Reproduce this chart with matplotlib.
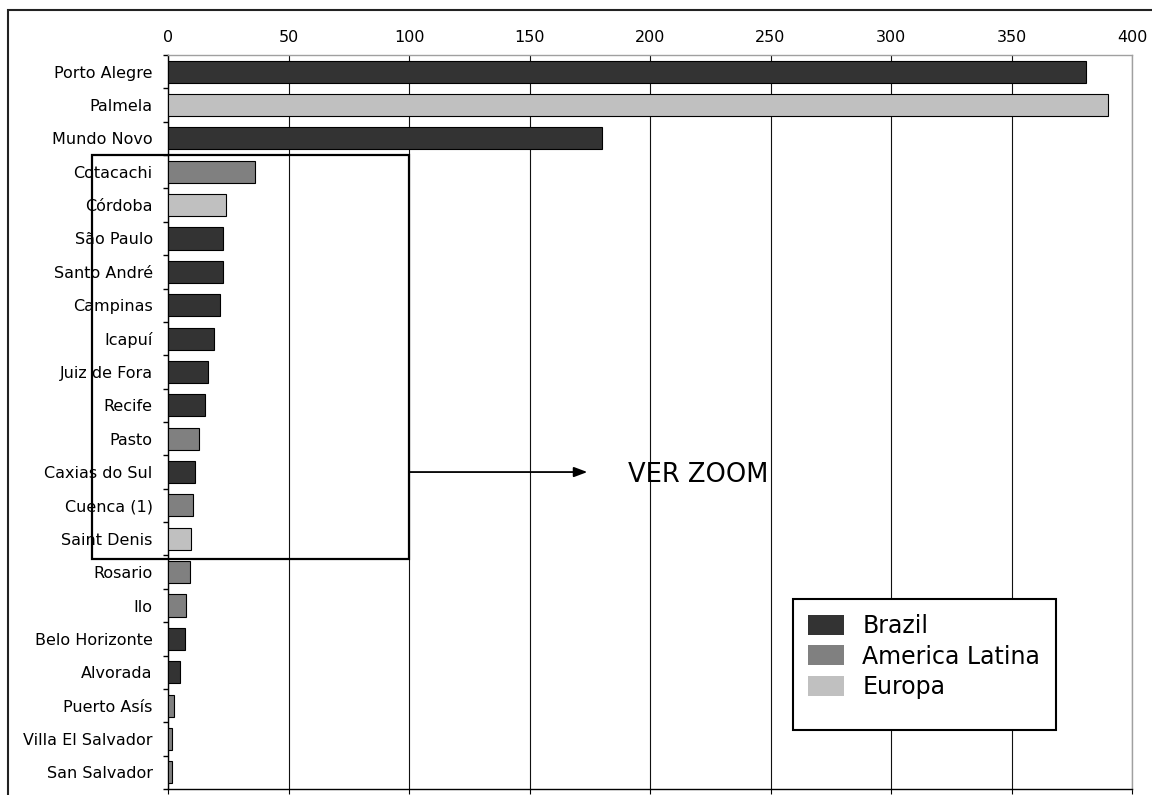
import matplotlib
matplotlib.use("Agg")
import matplotlib.pyplot as plt
from matplotlib.patches import Rectangle, Patch
from matplotlib.ticker import MultipleLocator, FixedLocator

plt.rcParams['font.family'] = ['DejaVu Sans']

cities = ["Porto Alegre", "Palmela", "Mundo Novo", "Cotacachi", "Córdoba",
          "São Paulo", "Santo André", "Campinas", "Icapuí", "Juiz de Fora",
          "Recife", "Pasto", "Caxias do Sul", "Cuenca (1)", "Saint Denis",
          "Rosario", "Ilo", "Belo Horizonte", "Alvorada", "Puerto Asís",
          "Villa El Salvador", "San Salvador"]
values = [381, 390, 180, 36, 24, 23, 23, 21.5, 19, 16.5, 15.5, 13, 11, 10.5,
          9.5, 9, 7.5, 7, 5, 2.5, 1.5, 1.5]
regions = ["Brazil", "Europa", "Brazil", "America Latina", "Europa",
           "Brazil", "Brazil", "Brazil", "Brazil", "Brazil", "Brazil",
           "America Latina", "Brazil", "America Latina", "Europa",
           "America Latina", "America Latina", "Brazil", "Brazil",
           "America Latina", "America Latina", "America Latina"]
region_names = ["Brazil", "America Latina", "Europa"]
region_colors = {"Brazil": "#333333", "America Latina": "#808080", "Europa": "#c0c0c0"}

W, H = 1152, 795
fig = plt.figure(figsize=(W / 100, H / 100), dpi=100)
fig.patch.set_facecolor("white")

# outer chart frame
fig.patches.append(Rectangle((8 / W, -0.1), 1.2, 1 - 10 / H + 0.1,
                             transform=fig.transFigure, fill=False,
                             edgecolor="#222222", linewidth=1.5))

ax = fig.add_axes([168 / W, 1 - 789 / H, (1132 - 168) / W, (789 - 55) / H])

ypos = list(range(len(cities)))
ax.barh(ypos, values, height=0.66,
        color=[region_colors[r] for r in regions],
        edgecolor="black", linewidth=0.8, zorder=3)

ax.set_xlim(0, 400)
ax.set_ylim(len(cities) - 0.5, -0.5)
ax.xaxis.set_major_locator(MultipleLocator(50))
ax.grid(axis="x", color="#111111", linewidth=0.8, zorder=0)
ax.tick_params(axis="x", top=False, bottom=True, labeltop=True, labelbottom=False,
               direction="out", length=3.6, color="black", labelsize=11.5, pad=3.8)

ax.set_yticks(ypos)
ax.set_yticklabels(cities)
ax.yaxis.set_minor_locator(FixedLocator([i - 0.5 for i in range(len(cities) + 1)]))
ax.tick_params(axis="y", which="major", length=0, labelsize=11.5, pad=11)
ax.tick_params(axis="y", which="minor", length=3.6, color="black", width=1)

for side in ("left", "bottom"):
    ax.spines[side].set_color("black")
    ax.spines[side].set_linewidth(1)
for side in ("top", "right"):
    ax.spines[side].set_color("#a0a0a0")
    ax.spines[side].set_linewidth(1)

# highlighted block and pointer
ax.add_patch(Rectangle((-31.5, 2.5), 131.5, 12.1, fill=False, edgecolor="black",
                       linewidth=1.6, clip_on=False, zorder=5))
ax.annotate("", xy=(174, 12), xytext=(100, 12),
            arrowprops=dict(arrowstyle="-|>,head_length=0.8,head_width=0.3",
                            color="black", lw=1.3, shrinkA=0, shrinkB=0),
            zorder=5)
ax.text(191, 12.1, "VER ZOOM", fontsize=18.5, va="center", ha="left", zorder=5)

# legend with its own frame
fig.patches.append(Rectangle((793 / W, 1 - 730 / H), (1056 - 793) / W, (730 - 599) / H,
                             transform=fig.transFigure, facecolor="white",
                             edgecolor="black", linewidth=1.5, zorder=10))
handles = [Patch(facecolor=region_colors[r], edgecolor="none") for r in region_names]
leg = fig.legend(handles, region_names, loc="upper left",
                 bbox_to_anchor=(803 / W, 1 - 609 / H), frameon=False,
                 fontsize=17, handlelength=1.52, handleheight=0.93,
                 handletextpad=0.8, labelspacing=0.29, borderpad=0.2,
                 borderaxespad=0)
leg.set_zorder(11)

fig.savefig("out.png", dpi=100)
